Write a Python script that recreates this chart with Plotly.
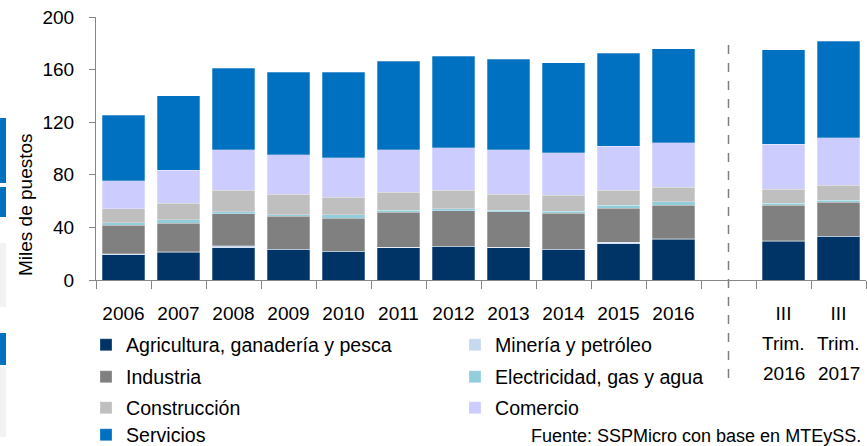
import plotly.graph_objects as go

# ---------------- data ----------------
categories = ["2006", "2007", "2008", "2009", "2010", "2011", "2012", "2013",
              "2014", "2015", "2016", " ", "III Trim. 2016", "III Trim. 2017"]
tick_labels = ["2006", "2007", "2008", "2009", "2010", "2011", "2012", "2013",
               "2014", "2015", "2016", "", "III", "III"]
tick_sub1 = {"III Trim. 2016": "Trim.", "III Trim. 2017": "Trim."}
tick_sub2 = {"III Trim. 2016": "2016", "III Trim. 2017": "2017"}

agricultura = [19.1, 21.0, 24.7, 23.2, 21.7, 24.5, 25.5, 24.5, 23.2, 27.7, 30.9, None, 29.6, 33.1]
mineria = [0.8, 0.3, 1.2, 0.3, 0.3, 0.3, 0.3, 0.3, 0.3, 1.1, 0.3, None, 0.3, 0.3]
industria = [21.8, 21.8, 24.6, 24.8, 24.8, 26.9, 26.9, 27.1, 27.1, 25.7, 25.6, None, 26.9, 25.7]
electricidad = [1.8, 2.8, 1.5, 1.3, 2.8, 1.5, 1.5, 1.3, 1.5, 2.5, 2.6, None, 1.6, 1.5]
construccion = [10.7, 12.5, 16.1, 15.8, 13.5, 13.5, 14.0, 12.2, 12.3, 11.2, 11.2, None, 10.6, 11.5]
comercio = [21.4, 24.9, 30.8, 30.0, 30.0, 32.3, 32.3, 33.8, 32.3, 33.6, 33.6, None, 34.2, 36.2]
servicios = [49.6, 56.7, 62.1, 62.4, 64.7, 67.4, 69.5, 68.5, 68.7, 70.7, 71.6, None, 71.9, 73.2]

series = [
    ("Agricultura, ganadería y pesca", agricultura, "#003366"),
    ("Minería y petróleo", mineria, "#C6D9F1"),
    ("Industria", industria, "#808080"),
    ("Electricidad, gas y agua", electricidad, "#92CDDC"),
    ("Construcción", construccion, "#BFBFBF"),
    ("Comercio", comercio, "#CCCCFF"),
    ("Servicios", servicios, "#0070C0"),
]

y_ticks = [0, 40, 80, 120, 160, 200]

# ---------------- layout helpers (pixel -> paper) ----------------
W, H = 867, 446
L, R, T, B = 96, 1, 17, 166
PW, PH = W - L - R, H - T - B


def px_x(px):
    return (px - L) / PW


def px_y(py):
    return (H - B - py) / PH


FONT = "Liberation Sans, Arial, sans-serif"

fig = go.Figure()

legend_pos = [(86, 345), (455, 345), (86, 377), (455, 377),
              (86, 408), (455, 408), (86, 435)]

layout_legends = {}
for i, (name, vals, color) in enumerate(series):
    key = "legend" if i == 0 else f"legend{i + 1}"
    fig.add_trace(go.Bar(
        x=categories, y=vals, name=name,
        marker=dict(color=color, line=dict(color="rgba(255,255,255,0.45)", width=0.6)),
        legend=key,
    ))
    lx, ly = legend_pos[i]
    layout_legends[key] = dict(
        x=px_x(lx), y=px_y(ly), xanchor="left", yanchor="middle",
        bgcolor="rgba(0,0,0,0)", borderwidth=0,
        font=dict(family=FONT, size=19.6, color="#000000"),
        itemclick=False, itemdoubleclick=False,
    )

fig.update_layout(
    width=W, height=H,
    margin=dict(l=L, r=R, t=T, b=B, pad=0, autoexpand=False),
    barmode="stack", bargap=0.236,
    plot_bgcolor="white", paper_bgcolor="white",
    font=dict(family=FONT, size=19, color="#000000"),
    showlegend=True,
    **layout_legends,
)

fig.update_xaxes(
    type="category", categoryorder="array", categoryarray=categories,
    tickvals=categories, ticktext=tick_labels,
    showline=True, linecolor="#868686", linewidth=1,
    ticks="outside", tickson="boundaries", ticklen=8, tickcolor="#868686",
    showgrid=False, zeroline=False,
    tickfont=dict(family=FONT, size=19, color="#000000"),
    ticklabelstandoff=16,
)
fig.update_yaxes(
    range=[0, 200], tickvals=y_ticks,
    showline=True, linecolor="#868686", linewidth=1,
    ticks="outside", ticklen=6, tickcolor="#868686",
    showgrid=False, zeroline=False,
    tickfont=dict(family=FONT, size=19, color="#000000"),
    ticklabelstandoff=11,
)

# y-axis title
fig.add_annotation(
    text="Miles de puestos", textangle=-90, showarrow=False,
    xref="paper", yref="paper", x=px_x(25), y=px_y(205),
    xanchor="center", yanchor="middle",
    font=dict(family=FONT, size=19, color="#000000"),
)

# extra tick label lines for quarterly categories
for cat in categories:
    if cat in tick_sub1:
        fig.add_annotation(text=tick_sub1[cat], showarrow=False, xref="x", yref="paper",
                           x=cat, y=px_y(343), yanchor="middle",
                           font=dict(family=FONT, size=19, color="#000000"))
        fig.add_annotation(text=tick_sub2[cat], showarrow=False, xref="x", yref="paper",
                           x=cat, y=px_y(373), yanchor="middle",
                           font=dict(family=FONT, size=19, color="#000000"))

# dashed separator
fig.add_shape(type="line", xref="x", yref="paper", x0=" ", x1=" ",
              y0=px_y(378), y1=px_y(43),
              line=dict(color="#7F7F7F", width=1.5, dash="dash"))

# source note
fig.add_annotation(
    text="Fuente: SSPMicro con base en MTEySS.", showarrow=False,
    xref="paper", yref="paper", x=px_x(863), y=px_y(436),
    xanchor="right", yanchor="middle",
    font=dict(family=FONT, size=18, color="#000000"),
)

# left-edge fragments from neighbouring slide
for (y0, y1, col) in [(118, 183, "#0070C0"), (187, 217, "#0070C0"), (243, 307, "#F2F2F2"),
                      (333, 365, "#0070C0"), (367, 437, "#F2F2F2")]:
    fig.add_shape(type="rect", xref="paper", yref="paper",
                  x0=px_x(0), x1=px_x(6), y0=px_y(y1), y1=px_y(y0),
                  fillcolor=col, line=dict(width=0), layer="below")

fig.write_html(
    "out.html",
    config={"displayModeBar": False},
    post_script="document.body.style.margin='0';document.body.style.overflow='hidden';",
)
